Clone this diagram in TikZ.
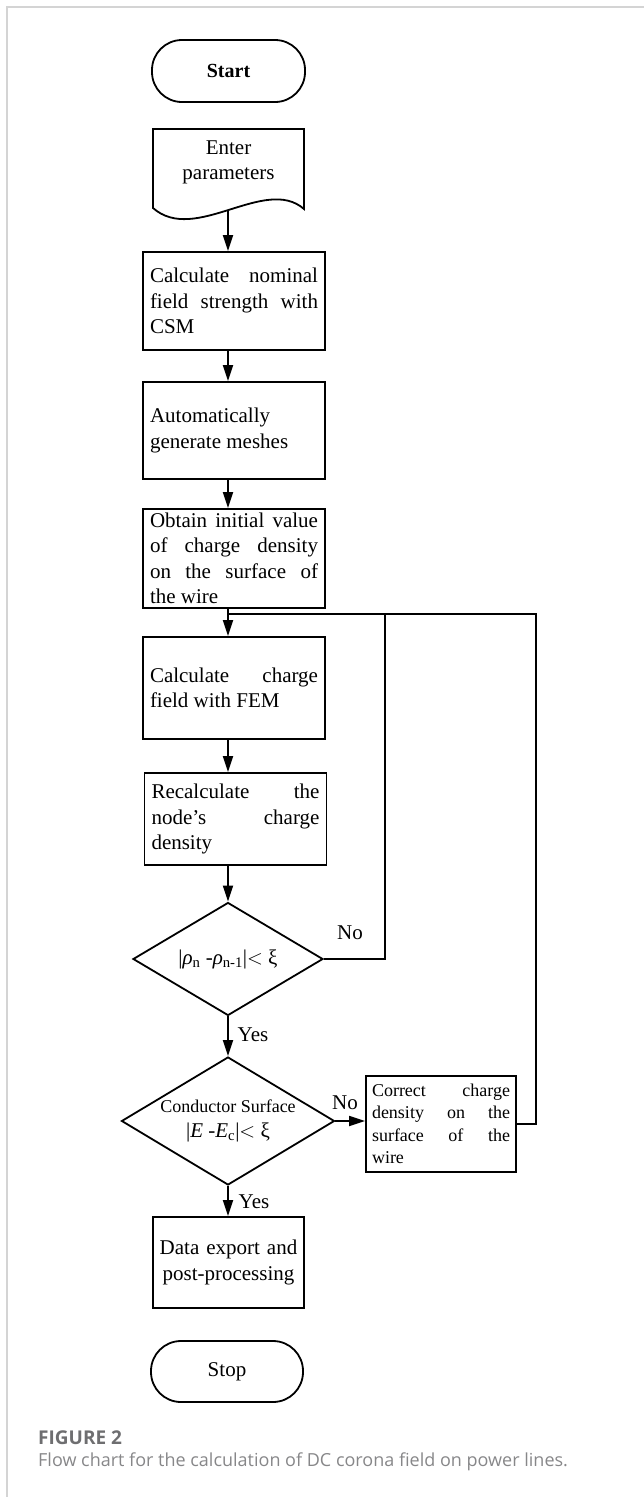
\documentclass[tikz,border=0pt]{standalone}
\usepackage{fontspec}
\setmainfont{Liberation Serif}
\newfontfamily\capfont{Open Sans}
\usetikzlibrary{shapes,arrows.meta}
\definecolor{framegray}{RGB}{212,212,212}
\definecolor{capgray}{RGB}{110,110,112}
\definecolor{txtgray}{RGB}{135,135,137}
\tikzset{
  conn/.style={line width=1.8pt},
  arr/.style={conn, -{Triangle[length=16pt,width=10pt]}},
  procbox/.style={draw, line width=1.8pt, rectangle, inner xsep=7pt, inner ysep=0pt,
    text width=168pt, align=justify, font=\fontsize{21}{25.5}\selectfont},
  termbox/.style={draw, line width=1.8pt, rectangle, rounded corners=30pt,
    minimum width=153pt, minimum height=62pt, font=\fontsize{21}{25.5}\selectfont},
  decbox/.style={draw, line width=1.8pt, diamond, inner sep=0pt, font=\fontsize{21}{25.5}\selectfont},
  lbl/.style={font=\fontsize{21}{25}\selectfont}
}
\newcommand{\procbox}[5]{ \node[procbox, minimum height=#4] (#1) at ( #2 , #3 ) {#5};}

\begin{document}
\begin{tikzpicture}[x=1pt,y=-1pt]
        \useasboundingbox (0,0) rectangle (644,1497);
        % frame
        \draw[framegray, line width=1.5pt] (644,7) -- (7,7) -- (7,1497);

        % terminals
        \node[termbox, font=\fontsize{20}{24}\selectfont] (start) at (228.5,71) {\textbf{Start}};
        \node[termbox, minimum width=152pt, minimum height=61pt] (stop) at (227,1371.5) {Stop};

        % input
        \draw[conn] (153,129) -- (304,129) -- (304,209) .. controls (265,175) and (195,245) .. (153,208) -- cycle;
        \node[font=\fontsize{21}{25.5}\selectfont, align=center] (enter) at (228.5,162.5) {Enter\\parameters};
        \coordinate (enterout) at (228,210);

        % process boxes
        \procbox{calc1}{234}{301}{98pt}{Calculate nominal\linebreak field strength with\linebreak CSM}
        \procbox{mesh}{234}{430.5}{97pt}{Automatically\newline generate meshes}
        \procbox{initval}{234}{558.5}{99pt}{Obtain initial value\linebreak of charge density\linebreak on the surface of\linebreak the wire}
        \procbox{femcalc}{234}{688}{102pt}{Calculate charge\linebreak field with FEM}
        \procbox{recalc}{235.5}{819}{92pt}{Recalculate the\linebreak node’s charge\linebreak density}
        \node[procbox, text width=138pt, inner xsep=6pt, minimum height=96pt,
          font=\fontsize{18}{22.5}\selectfont] (correct) at (441,1124)
          {Correct charge\linebreak density on the\linebreak surface of the\linebreak wire};
        \node[procbox, text width=147pt, inner xsep=2pt, align=center, minimum height=91pt] (export) at (228.5,1262.5)
          {Data export and\\post-processing};

        % decisions
        \node[decbox, minimum width=190pt, minimum height=113pt, shape aspect=1.68] (dec1) at (228,959)
          {|\textit{ρ}\textsubscript{n} -\textit{ρ}\textsubscript{n-1}|$<$ ξ};
        \node[decbox, minimum width=213pt, minimum height=128pt, shape aspect=1.66, align=center] (dec2) at (228,1121)
          {{\fontsize{18}{22}\selectfont Conductor Surface}\\|\textit{E} -\textit{E}\textsubscript{c}|$<$ ξ};

        % main flow
        \coordinate (axis) at (228,0);
        \draw[arr] (enterout) -- (calc1.north -| axis);
        \draw[arr] (calc1.south -| axis) -- (mesh.north -| axis);
        \draw[arr] (mesh.south -| axis) -- (initval.north -| axis);
        \draw[arr] (initval.south -| axis) -- (femcalc.north -| axis);
        \draw[arr] (femcalc.south -| axis) -- (recalc.north -| axis);
        \draw[arr] (recalc.south -| axis) -- (dec1.north);
        \draw[arr] (dec1.south) -- (dec2.north);
        \draw[arr] (dec2.south) -- (export.north -| axis);
        \draw[arr] (dec2.east) -- (correct.west |- dec2.east);

        % feedback loops
        \coordinate (join) at (228,614);
        \coordinate (loopa) at (385,614);
        \coordinate (loopb) at (536,614);
        \draw[conn] (dec1.east) -| (loopa);
        \draw[conn] (correct.east) -| (loopb) -- (join);

        % labels
        \node[lbl] (no1) at (350,933) {No};
        \node[lbl] (yes1) at (253,1035) {Yes};
        \node[lbl] (no2) at (345,1103) {No};
        \node[lbl] (yes2) at (254,1202) {Yes};

        % caption
        \node[anchor=west, inner sep=0pt, text=capgray, font=\capfont\bfseries\fontsize{19}{22}\selectfont] (fig) at (38,1438) {FIGURE 2};
        \node[anchor=west, inner sep=0pt, text=txtgray, font=\capfont\fontsize{18}{22}\selectfont] (cap) at (38,1462)
          {Flow chart for the calculation of DC corona field on power lines.};
    \end{tikzpicture}
\end{document}
